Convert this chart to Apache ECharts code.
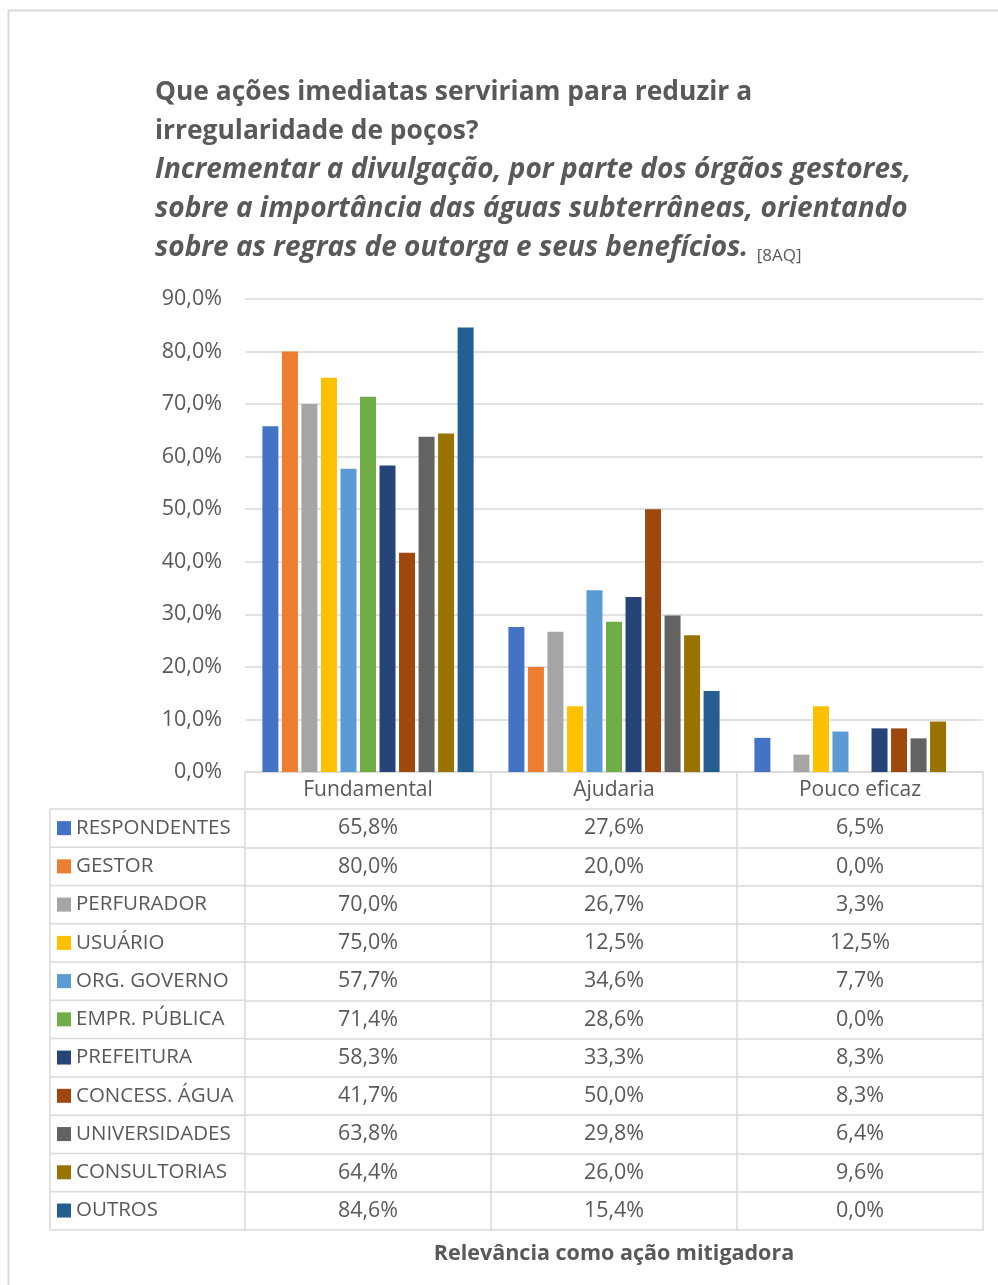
<!DOCTYPE html>
<html>
<head>
<meta charset="utf-8">
<script src="https://cdn.jsdelivr.net/npm/echarts@6/dist/echarts.min.js"></script>
<style>
  html, body { margin: 0; padding: 0; background: #fff; }
  #chart { width: 998px; height: 1285px; }
</style>
</head>
<body>
<div id="chart"></div>
<script>
// data
const categories = ["Fundamental", "Ajudaria", "Pouco eficaz"];
const seriesNames = ["RESPONDENTES", "GESTOR", "PERFURADOR", "USUÁRIO", "ORG. GOVERNO", "EMPR. PÚBLICA",
  "PREFEITURA", "CONCESS. ÁGUA", "UNIVERSIDADES", "CONSULTORIAS", "OUTROS"];
const respondentes = [65.8, 27.6, 6.5];
const gestor = [80.0, 20.0, 0.0];
const perfurador = [70.0, 26.7, 3.3];
const usuario = [75.0, 12.5, 12.5];
const orgGoverno = [57.7, 34.6, 7.7];
const emprPublica = [71.4, 28.6, 0.0];
const prefeitura = [58.3, 33.3, 8.3];
const concessAgua = [41.7, 50.0, 8.3];
const universidades = [63.8, 29.8, 6.4];
const consultorias = [64.4, 26.0, 9.6];
const outros = [84.6, 15.4, 0.0];
const seriesValues = [respondentes, gestor, perfurador, usuario, orgGoverno, emprPublica,
  prefeitura, concessAgua, universidades, consultorias, outros];
const colors = ["#4472C4", "#ED7D31", "#A5A5A5", "#FFC000", "#5B9BD5", "#70AD47",
  "#264478", "#9E480E", "#636363", "#997300", "#255E91"];

const FONT = "Open Sans";
const TEXT = "#595959";
const LINE = "#d9d9d9";

// layout of the plot + data table
const gridLeft = 245, gridRight = 15, gridTop = 299, axisY = 772;
const headerH = 37, rowH = 38.27, tableLeft = 50;

const pct = (v) => v.toFixed(1).replace(".", ",") + "%";

const chart = echarts.init(document.getElementById("chart"));

// one category axis per table row: its line is the row's top border, its ticks the cell dividers
const xAxes = [{
  type: "category",
  data: categories,
  gridIndex: 0,
  position: "bottom",
  axisLine: { lineStyle: { color: LINE, width: 1.5 } },
  axisTick: { show: true, length: headerH, lineStyle: { color: LINE, width: 1.5 } },
  axisLabel: { color: TEXT, fontFamily: FONT, fontSize: 21, margin: headerH / 2, verticalAlign: "middle" }
}];
seriesValues.forEach((vals, i) => {
  xAxes.push({
    type: "category",
    data: categories,
    gridIndex: 0,
    position: "bottom",
    offset: headerH + i * rowH,
    axisLine: { lineStyle: { color: LINE, width: 1.5 } },
    axisTick: { show: true, length: rowH, lineStyle: { color: LINE, width: 1.5 } },
    axisLabel: {
      interval: 0, color: TEXT, fontFamily: FONT, fontSize: 21.5,
      margin: rowH / 2, verticalAlign: "middle",
      formatter: (v, idx) => pct(vals[idx])
    }
  });
});
// closing line under the last row + axis title
xAxes.push({
  type: "category",
  data: categories,
  gridIndex: 0,
  position: "bottom",
  offset: headerH + seriesValues.length * rowH,
  axisLine: { lineStyle: { color: LINE, width: 1.5 } },
  axisTick: { show: false },
  axisLabel: { show: false },
  name: "Relevância como ação mitigadora",
  nameLocation: "middle",
  nameGap: 13,
  nameTextStyle: { color: TEXT, fontFamily: FONT, fontSize: 21.5, fontWeight: "bold" }
});

// borders of the left (legend) column of the table
const tableTop = axisY + headerH;
const nRows = seriesValues.length;
const leftCells = [];
for (let k = 0; k <= nRows; k++) {
  leftCells.push({
    type: "line",
    shape: { x1: tableLeft, y1: tableTop + k * rowH, x2: gridLeft, y2: tableTop + k * rowH },
    style: { stroke: LINE, lineWidth: 1.5 }
  });
}
leftCells.push({
  type: "line",
  shape: { x1: tableLeft, y1: tableTop, x2: tableLeft, y2: tableTop + nRows * rowH },
  style: { stroke: LINE, lineWidth: 1.5 }
});

const option = {
  color: colors,
  animation: false,
  textStyle: { fontFamily: FONT },
  title: {
    left: 155,
    top: 72.5,
    padding: 0,
    text: "{b|Que ações imediatas serviriam para reduzir a}\n{b|irregularidade de poços?}\n" +
      "{i|Incrementar a divulgação, por parte dos órgãos gestores,}\n" +
      "{i|sobre a importância das águas subterrâneas, orientando}\n" +
      "{i|sobre as regras de outorga e seus benefícios.}{s| [8AQ]}",
    textStyle: {
      rich: {
        b: { fontFamily: FONT, fontSize: 26.4, fontWeight: "bold", color: TEXT, lineHeight: 39 },
        i: { fontFamily: FONT, fontSize: 28, fontWeight: "bold", fontStyle: "italic", color: TEXT, lineHeight: 39 },
        s: { fontFamily: FONT, fontSize: 17, fontWeight: "normal", color: TEXT, lineHeight: 39, padding: [16, 0, 0, 4] }
      }
    }
  },
  legend: {
    orient: "vertical",
    left: 57,
    top: tableTop + rowH / 2 - 10.5,
    padding: 0,
    itemWidth: 14,
    itemHeight: 14,
    itemGap: rowH - 21.03,
    icon: "rect",
    selectedMode: false,
    data: seriesNames,
    textStyle: { color: TEXT, fontFamily: FONT, fontSize: 20.5, lineHeight: 20 }
  },
  grid: { left: gridLeft, right: gridRight, top: gridTop, bottom: 1285 - axisY, containLabel: false },
  xAxis: xAxes,
  yAxis: {
    type: "value",
    min: 0,
    max: 90,
    interval: 10,
    axisLine: { show: false },
    axisTick: { show: false },
    axisLabel: { color: TEXT, fontFamily: FONT, fontSize: 21.5, margin: 23, formatter: (v) => pct(v) },
    splitLine: { lineStyle: { color: LINE, width: 1.5 } }
  },
  graphic: [
    { type: "rect", shape: { x: 8.5, y: 10.5, width: 1000, height: 1300 }, style: { fill: "none", stroke: LINE, lineWidth: 2 } }
  ].concat(leftCells),
  series: seriesNames.map((name, i) => ({
    name: name,
    type: "bar",
    xAxisIndex: 0,
    data: seriesValues[i],
    barWidth: 16,
    barGap: "22%",
    itemStyle: { color: colors[i] }
  }))
};

chart.setOption(option);
</script>
</body>
</html>
